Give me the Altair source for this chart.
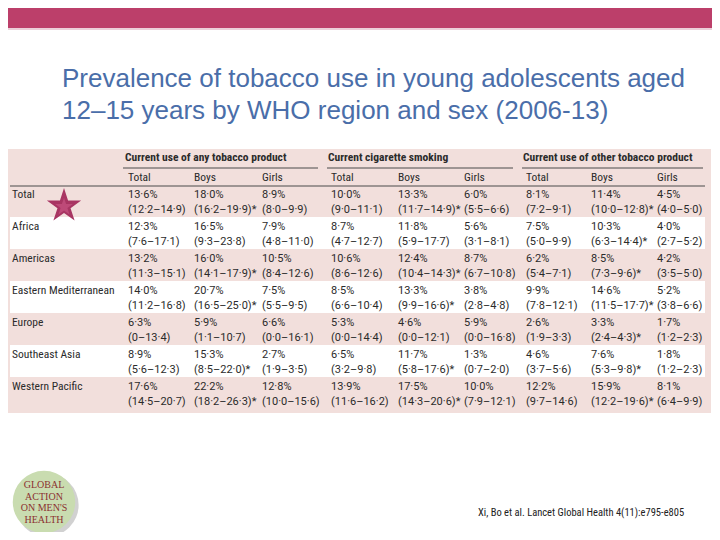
import altair as alt
import pandas as pd

# ---------------- data ----------------
regions = ["Total", "Africa", "Americas", "Eastern Mediterranean", "Europe",
           "Southeast Asia", "Western Pacific"]
group_heads = ["Current use of any tobacco product", "Current cigarette smoking",
               "Current use of other tobacco product"]
sub_heads = ["Total", "Boys", "Girls"]

pct = [
    ["13·6%", "18·0%", "8·9%", "10·0%", "13·3%", "6·0%", "8·1%", "11·4%", "4·5%"],
    ["12·3%", "16·5%", "7·9%", "8·7%", "11·8%", "5·6%", "7·5%", "10·3%", "4·0%"],
    ["13·2%", "16·0%", "10·5%", "10·6%", "12·4%", "8·7%", "6·2%", "8·5%", "4·2%"],
    ["14·0%", "20·7%", "7·5%", "8·5%", "13·3%", "3·8%", "9·9%", "14·6%", "5·2%"],
    ["6·3%", "5·9%", "6·6%", "5·3%", "4·6%", "5·9%", "2·6%", "3·3%", "1·7%"],
    ["8·9%", "15·3%", "2·7%", "6·5%", "11·7%", "1·3%", "4·6%", "7·6%", "1·8%"],
    ["17·6%", "22·2%", "12·8%", "13·9%", "17·5%", "10·0%", "12·2%", "15·9%", "8·1%"],
]
ci = [
    ["(12·2–14·9)", "(16·2–19·9)*", "(8·0–9·9)", "(9·0–11·1)", "(11·7–14·9)*",
     "(5·5–6·6)", "(7·2–9·1)", "(10·0–12·8)*", "(4·0–5·0)"],
    ["(7·6–17·1)", "(9·3–23·8)", "(4·8–11·0)", "(4·7–12·7)", "(5·9–17·7)",
     "(3·1–8·1)", "(5·0–9·9)", "(6·3–14·4)*", "(2·7–5·2)"],
    ["(11·3–15·1)", "(14·1–17·9)*", "(8·4–12·6)", "(8·6–12·6)", "(10·4–14·3)*",
     "(6·7–10·8)", "(5·4–7·1)", "(7·3–9·6)*", "(3·5–5·0)"],
    ["(11·2–16·8)", "(16·5–25·0)*", "(5·5–9·5)", "(6·6–10·4)", "(9·9–16·6)*",
     "(2·8–4·8)", "(7·8–12·1)", "(11·5–17·7)*", "(3·8–6·6)"],
    ["(0–13·4)", "(1·1–10·7)", "(0·0–16·1)", "(0·0–14·4)", "(0·0–12·1)",
     "(0·0–16·8)", "(1·9–3·3)", "(2·4–4·3)*", "(1·2–2·3)"],
    ["(5·6–12·3)", "(8·5–22·0)*", "(1·9–3·5)", "(3·2–9·8)", "(5·8–17·6)*",
     "(0·7–2·0)", "(3·7–5·6)", "(5·3–9·8)*", "(1·2–2·3)"],
    ["(14·5–20·7)", "(18·2–26·3)*", "(10·0–15·6)", "(11·6–16·2)", "(14·3–20·6)*",
     "(7·9–12·1)", "(9·7–14·6)", "(12·2–19·6)*", "(6·4–9·9)"],
]
shaded_rows = [1, 3, 5]
title_lines = ["Prevalence of tobacco use in young adolescents aged",
               "12–15 years by WHO region and sex (2006-13)"]
citation = "Xi, Bo et al. Lancet Global Health 4(11):e795-e805"
logo_lines = ["GLOBAL", "ACTION", "ON MEN'S", "HEALTH"]

# ---------------- tables ----------------
cells = pd.DataFrame([
    {"row": r, "col": c + 1, "pct": pct[r][c], "ci": ci[r][c]}
    for r in range(len(regions)) for c in range(9)
])
labels = pd.DataFrame({"row": list(range(len(regions))), "col": 0, "label": regions})
subs = pd.DataFrame({"col": list(range(1, 10)), "label": sub_heads * 3})
groups = pd.DataFrame({"col": [1, 4, 7], "label": group_heads})
bands = pd.DataFrame({"row": shaded_rows})
one = pd.DataFrame({"k": [0]})

FONT = "Liberation Sans Narrow, Roboto Condensed, Roboto, sans-serif"
NUMFONT = "Roboto, sans-serif"
TXT = "#2b2b2b"
STAR = ("M0,-1L0.2245,-0.309L0.951,-0.309L0.363,0.118L0.588,0.809L0,0.382"
        "L-0.588,0.809L-0.363,0.118L-0.951,-0.309L-0.2245,-0.309Z")

xs = alt.Scale(domain=list(range(10)),
               range=[4, 120, 186, 254, 323, 390, 456, 518, 583, 649],
               nice=False, zero=False)
ys = alt.Scale(domain=[0, 6], range=[187, 379], nice=False, zero=False)
X = alt.X("col:Q", scale=xs, axis=None)
Y = alt.Y("row:Q", scale=ys, axis=None)

topbar = alt.Chart(one).mark_rect(color="#BC3F6A").encode(
    x=alt.value(0), x2=alt.value(704), y=alt.value(0), y2=alt.value(20))
topline = alt.Chart(one).mark_rule(color="#E6BFCC", strokeWidth=1.5).encode(
    x=alt.value(0), x2=alt.value(704), y=alt.value(21))

table_bg = alt.Chart(one).mark_rect(color="#F2DFDC").encode(
    x=alt.value(0), x2=alt.value(703), y=alt.value(141), y2=alt.value(405))

white = alt.Chart(bands).transform_calculate(
    top="datum.row - 0.31", bot="datum.row + 0.69"
).mark_rect(color="white").encode(
    x=alt.value(2), x2=alt.value(697),
    y=alt.Y("top:Q", scale=ys, axis=None), y2="bot:Q")

rule_full = alt.Chart(one).mark_rule(color="#4a4a4a", strokeWidth=1).encode(
    x=alt.value(2), x2=alt.value(697), y=alt.value(178))
rule_g1 = alt.Chart(one).mark_rule(color="#4a4a4a", strokeWidth=1).encode(
    x=alt.value(115), x2=alt.value(310), y=alt.value(160))
rule_g2 = alt.Chart(one).mark_rule(color="#4a4a4a", strokeWidth=1).encode(
    x=alt.value(319), x2=alt.value(505), y=alt.value(160))
rule_g3 = alt.Chart(one).mark_rule(color="#4a4a4a", strokeWidth=1).encode(
    x=alt.value(514), x2=alt.value(695), y=alt.value(160))

grp_text = alt.Chart(groups).mark_text(
    align="left", baseline="middle", font=FONT, fontSize=11.5, fontWeight="bold",
    color=TXT, dx=-3).encode(x=X, y=alt.value(150), text="label:N")
sub_text = alt.Chart(subs).mark_text(
    align="left", baseline="middle", font=FONT, fontSize=11.5, color=TXT).encode(
    x=X, y=alt.value(170), text="label:N")
lab_text = alt.Chart(labels).mark_text(
    align="left", baseline="middle", font=FONT, fontSize=11.5, color=TXT).encode(
    x=X, y=Y, text="label:N")
pct_text = alt.Chart(cells).mark_text(
    align="left", baseline="middle", font=NUMFONT, fontSize=11, color=TXT).encode(
    x=X, y=Y, text="pct:N")
ci_text = alt.Chart(cells).mark_text(
    align="left", baseline="middle", font=NUMFONT, fontSize=11, color=TXT, dy=15).encode(
    x=X, y=Y, text="ci:N")

star = alt.Chart(one).mark_point(shape=STAR, filled=True, size=1300,
                                 color="#A83562", opacity=1).encode(
    x=alt.value(56), y=alt.value(198))
star_in = alt.Chart(one).mark_point(shape=STAR, filled=True, size=350,
                                    color="#BE4A78", opacity=1).encode(
    x=alt.value(56), y=alt.value(199))

title1 = alt.Chart(one).mark_text(
    text=title_lines[0], align="left", baseline="alphabetic",
    font="Liberation Sans, Arial, sans-serif", fontSize=26, color="#4A6EA9").encode(
    x=alt.value(54), y=alt.value(79))
title2 = alt.Chart(one).mark_text(
    text=title_lines[1], align="left", baseline="alphabetic",
    font="Liberation Sans, Arial, sans-serif", fontSize=26, color="#4A6EA9").encode(
    x=alt.value(54), y=alt.value(111))

cite = alt.Chart(one).mark_text(
    text=citation, align="left", baseline="middle",
    font=FONT, fontSize=10.5, color="#222222").encode(
    x=alt.value(470), y=alt.value(505))

logo_shadow = alt.Chart(one).mark_point(shape="circle", filled=True, size=4000,
                                        color="#9a9a9a", opacity=0.45).encode(
    x=alt.value(39), y=alt.value(497))
logo = alt.Chart(one).mark_point(shape="circle", filled=True, size=3900,
                                 color="#C9DCB0", opacity=1).encode(
    x=alt.value(36), y=alt.value(494))
logo_t = [
    alt.Chart(one).mark_text(
        text=t, align="center", baseline="middle",
        font="Liberation Serif, serif", fontSize=10, color="#8B3030").encode(
        x=alt.value(36), y=alt.value(477 + 11.5 * i))
    for i, t in enumerate(logo_lines)
]

chart = alt.layer(
    topbar, topline, table_bg, white, rule_full, rule_g1, rule_g2, rule_g3,
    grp_text, sub_text, lab_text, pct_text, ci_text, star, star_in,
    title1, title2, cite, logo_shadow, logo, *logo_t
).properties(
    width=704, height=524,
    autosize=alt.AutoSizeParams(type="none"),
    padding=0, background="white"
).configure_view(stroke=None)

chart.save("out.html", embed_options={"renderer": "svg", "actions": False})
